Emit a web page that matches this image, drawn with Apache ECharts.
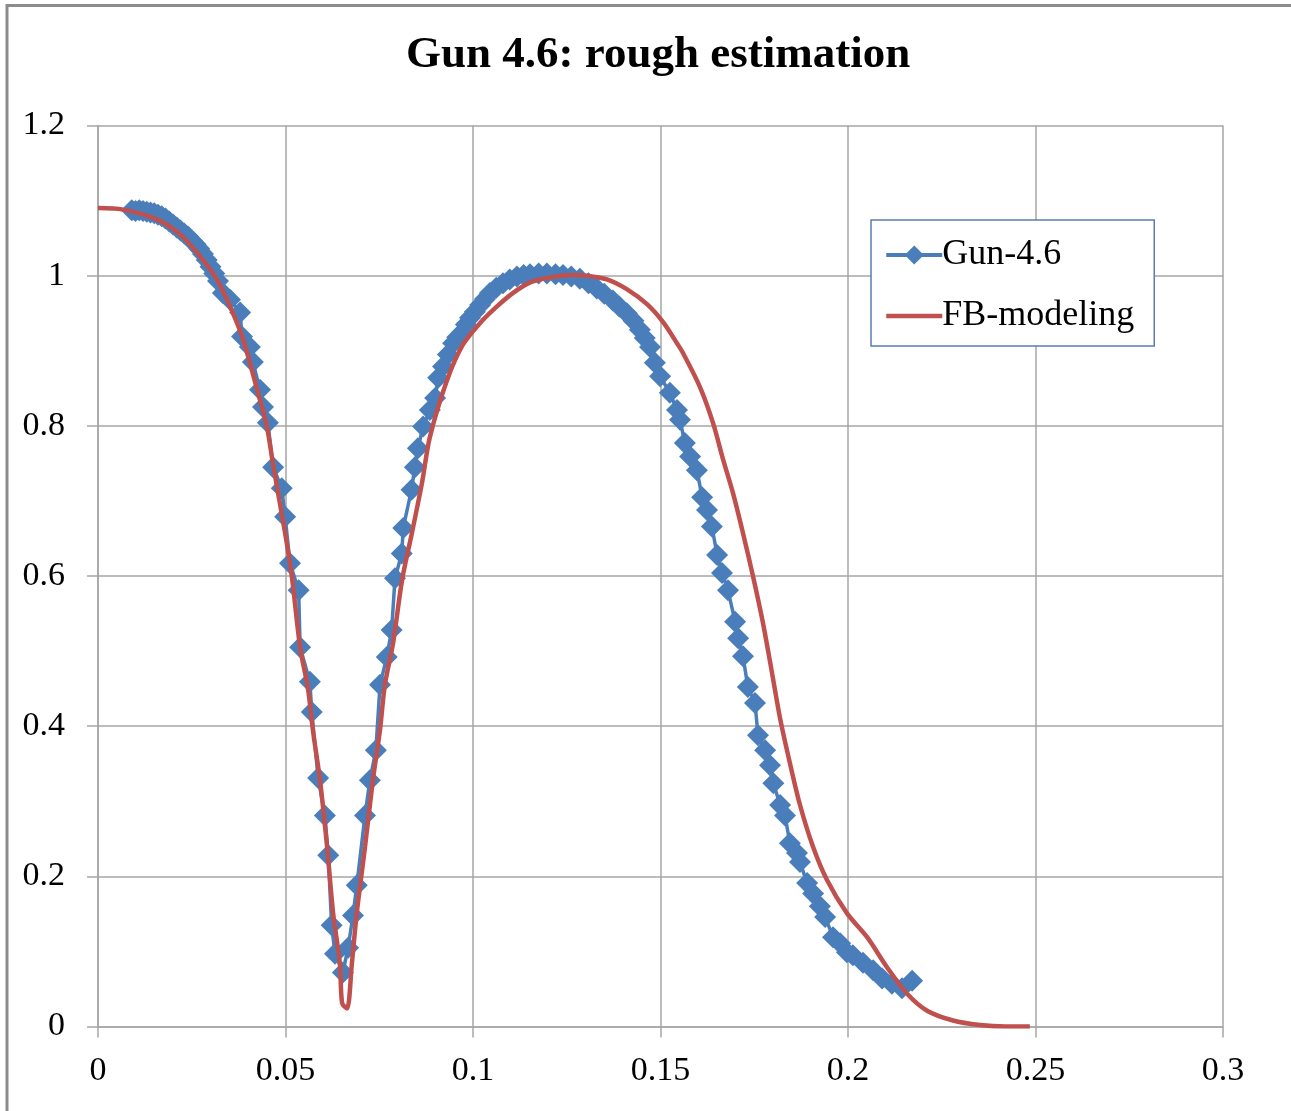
<!DOCTYPE html>
<html>
<head>
<meta charset="utf-8">
<title>Gun 4.6: rough estimation</title>
<script src="https://cdn.jsdelivr.net/npm/echarts@6/dist/echarts.min.js"></script>
<style>
  html, body { margin: 0; padding: 0; background: #fff; }
  #chart { width: 1291px; height: 1111px; }
</style>
</head>
<body>
<div id="chart"></div>
<script>
// Measured beam profile (Gun-4.6): [position, relative amplitude]
const gunPoints = [
  [0.0090,1.087],[0.0100,1.086],[0.0110,1.087],[0.0120,1.086],[0.0130,1.085],[0.0140,1.084],
  [0.0150,1.083],[0.0160,1.081],[0.0170,1.079],[0.0180,1.076],[0.0190,1.072],[0.0200,1.068],
  [0.0210,1.064],[0.0220,1.060],[0.0230,1.056],[0.0240,1.052],[0.0250,1.047],[0.0260,1.042],
  [0.0270,1.036],[0.0280,1.029],[0.0290,1.021],[0.0300,1.012],[0.0310,1.003],[0.0320,0.993],
  [0.0333,0.977],[0.0352,0.968],[0.0379,0.951],[0.0384,0.919],[0.0405,0.905],[0.0413,0.885],
  [0.0432,0.848],[0.0440,0.825],[0.0453,0.804],[0.0467,0.745],[0.0490,0.717],[0.0499,0.679],
  [0.0512,0.617],[0.0535,0.581],[0.0539,0.505],[0.0565,0.459],[0.0570,0.419],[0.0587,0.331],
  [0.0605,0.281],[0.0614,0.228],[0.0623,0.135],[0.0632,0.097],[0.0653,0.072],[0.0667,0.105],
  [0.0680,0.148],[0.0690,0.188],[0.0712,0.281],[0.0725,0.328],[0.0741,0.368],[0.0752,0.455],
  [0.0770,0.492],[0.0783,0.528],[0.0792,0.597],[0.0810,0.630],[0.0814,0.664],[0.0836,0.715],
  [0.0845,0.745],[0.0853,0.770],[0.0867,0.799],[0.0885,0.821],[0.0899,0.837],[0.0907,0.864],
  [0.0920,0.879],[0.0933,0.895],[0.0947,0.910],[0.0958,0.918],[0.0970,0.924],[0.0981,0.935],
  [0.0992,0.944],[0.1005,0.952],[0.1019,0.961],[0.1032,0.969],[0.1045,0.977],[0.1062,0.984],
  [0.1080,0.990],[0.1098,0.995],[0.1117,0.999],[0.1135,1.001],[0.1152,1.002],[0.1175,1.003],
  [0.1197,1.003],[0.1220,1.002],[0.1240,1.001],[0.1262,0.999],[0.1285,0.996],[0.1308,0.990],
  [0.1330,0.983],[0.1350,0.976],[0.1373,0.967],[0.1390,0.959],[0.1410,0.950],[0.1428,0.940],
  [0.1445,0.928],[0.1458,0.917],[0.1472,0.905],[0.1485,0.884],[0.1499,0.866],[0.1525,0.844],
  [0.1544,0.821],[0.1552,0.808],[0.1565,0.777],[0.1579,0.759],[0.1597,0.741],[0.1611,0.705],
  [0.1624,0.688],[0.1637,0.666],[0.1651,0.628],[0.1664,0.604],[0.1680,0.581],[0.1699,0.539],
  [0.1707,0.517],[0.1720,0.493],[0.1733,0.452],[0.1752,0.431],[0.1760,0.388],[0.1779,0.368],
  [0.1792,0.348],[0.1801,0.324],[0.1819,0.295],[0.1832,0.281],[0.1845,0.244],[0.1864,0.231],
  [0.1872,0.219],[0.1891,0.191],[0.1907,0.177],[0.1925,0.160],[0.1939,0.146],[0.1960,0.119],
  [0.1979,0.111],[0.1997,0.099],[0.2013,0.095],[0.2040,0.085],[0.2067,0.075],[0.2091,0.064],
  [0.2117,0.057],[0.2144,0.051],[0.2171,0.061]
];

// Modelled profile (FB-modeling): [position, relative amplitude]
const fbPoints = [
  [0.0000,1.090],[0.0067,1.088],[0.0157,1.075],[0.0219,1.055],[0.0272,1.026],[0.0317,0.995],
  [0.0352,0.959],[0.0387,0.915],[0.0425,0.847],[0.0450,0.800],[0.0467,0.748],[0.0499,0.657],
  [0.0517,0.599],[0.0539,0.505],[0.0560,0.450],[0.0573,0.395],[0.0592,0.328],[0.0611,0.239],
  [0.0627,0.151],[0.0645,0.084],[0.0651,0.031],[0.0664,0.024],[0.0677,0.084],[0.0690,0.151],
  [0.0712,0.239],[0.0733,0.328],[0.0752,0.395],[0.0765,0.455],[0.0787,0.511],[0.0811,0.595],
  [0.0837,0.657],[0.0864,0.724],[0.0885,0.785],[0.0931,0.861],[0.0973,0.908],[0.1019,0.937],
  [0.1064,0.959],[0.1107,0.977],[0.1152,0.991],[0.1197,0.997],[0.1259,1.001],[0.1304,1.000],
  [0.1357,0.995],[0.1410,0.982],[0.1464,0.962],[0.1507,0.938],[0.1544,0.910],[0.1560,0.897],
  [0.1605,0.852],[0.1640,0.804],[0.1667,0.755],[0.1693,0.711],[0.1720,0.657],[0.1747,0.599],
  [0.1773,0.538],[0.1797,0.472],[0.1819,0.410],[0.1845,0.351],[0.1872,0.295],[0.1907,0.239],
  [0.1944,0.195],[0.1997,0.151],[0.2051,0.119],[0.2104,0.079],[0.2157,0.044],[0.2211,0.021],
  [0.2280,0.008],[0.2352,0.002],[0.2420,0.000],[0.2485,0.000]
];

const seriesNames = ['Gun-4.6', 'FB-modeling'];
const chartTitle = 'Gun 4.6: rough estimation';

// Axis ranges and tick steps
const xRange = [0, 0.3], xStep = 0.05;
const yRange = [0, 1.2], yStep = 0.2;

const serif = '"Liberation Serif", "Times New Roman", serif';
const gridColor = '#a6a6a6';
const blue = '#4a7ebb';
const red = '#c0504d';

const chart = echarts.init(document.getElementById('chart'), null, { renderer: 'canvas' });

chart.setOption({
  backgroundColor: '#ffffff',
  animation: false,
  title: {
    text: chartTitle,
    left: 401,
    top: 28,
    textStyle: { fontFamily: serif, fontSize: 45, fontWeight: 'bold', color: '#000' }
  },
  // Outer chart frame (top and left edges fall inside the canvas)
  graphic: [{
    type: 'rect',
    silent: true,
    shape: { x: 7, y: 5.5, width: 1400, height: 1200 },
    style: { fill: null, stroke: '#8c8c8c', lineWidth: 3 },
    z: -10
  }],
  grid: { left: 98, right: 68, top: 125.5, bottom: 84.5, containLabel: false },
  legend: {
    orient: 'vertical',
    left: 871,
    top: 220,
    padding: [17, 20, 12, 13],
    itemGap: 25,
    itemWidth: 56,
    itemHeight: 24,
    backgroundColor: '#ffffff',
    borderColor: '#5b7bb5',
    borderWidth: 1.5,
    textStyle: { fontFamily: serif, fontSize: 36, color: '#000', padding: [0, 0, 0, -5] },
    data: [
      { name: seriesNames[0], lineStyle: { width: 4 } },
      { name: seriesNames[1], lineStyle: { width: 4.5 }, itemStyle: { opacity: 0 } }
    ]
  },
  xAxis: {
    type: 'value',
    min: xRange[0],
    max: xRange[1],
    interval: xStep,
    axisLine: { show: true, onZero: false, lineStyle: { color: gridColor, width: 1.5 } },
    axisTick: { show: true, inside: false, length: 11, lineStyle: { color: gridColor, width: 1.5 } },
    splitLine: { show: true, lineStyle: { color: gridColor, width: 1.5 } },
    axisLabel: { fontFamily: serif, fontSize: 34, color: '#000', margin: 28 }
  },
  yAxis: {
    type: 'value',
    min: yRange[0],
    max: yRange[1],
    interval: yStep,
    axisLine: { show: true, onZero: false, lineStyle: { color: gridColor, width: 1.5 } },
    axisTick: { show: true, inside: false, length: 11, lineStyle: { color: gridColor, width: 1.5 } },
    splitLine: { show: true, lineStyle: { color: gridColor, width: 1.5 } },
    axisLabel: { fontFamily: serif, fontSize: 34, color: '#000', margin: 33 }
  },
  series: [
    {
      name: seriesNames[0],
      type: 'line',
      data: gunPoints,
      symbol: 'diamond',
      symbolSize: 22,
      showAllSymbol: true,
      lineStyle: { color: blue, width: 3.5 },
      itemStyle: { color: blue, borderWidth: 0 },
      z: 2
    },
    {
      name: seriesNames[1],
      type: 'line',
      data: fbPoints,
      symbol: 'none',
      smooth: 0.3,
      lineStyle: { color: red, width: 4.5 },
      itemStyle: { color: red },
      z: 3
    }
  ]
});
</script>
</body>
</html>
